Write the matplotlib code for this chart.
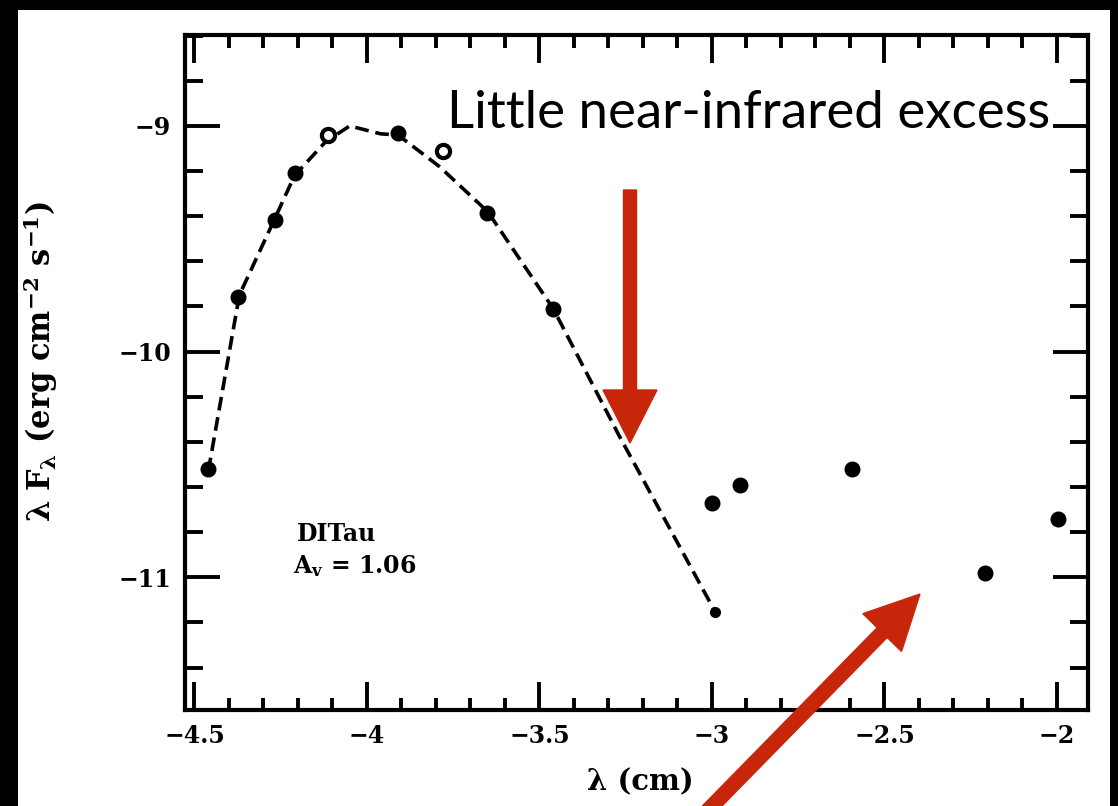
import numpy as np
import matplotlib
matplotlib.use('Agg')
import matplotlib.pyplot as plt
from matplotlib.patches import Rectangle, FancyArrow
from matplotlib.transforms import IdentityTransform
from matplotlib.ticker import MultipleLocator, FixedLocator

# model curve (dashed)
model_x = [-4.46, -4.37, -4.27, -4.21, -4.12, -4.05, -3.96, -3.91, -3.79, -3.65, -3.46, -3.27, -2.99]
model_y = [-10.53, -9.75, -9.42, -9.22, -9.07, -9.00, -9.035, -9.04, -9.18, -9.38, -9.81, -10.37, -11.155]

# observed photometry
filled_x = [-4.46, -4.374, -4.267, -4.21, -3.91, -3.652, -3.46, -3.0, -2.919, -2.594, -2.209, -1.997]
filled_y = [-10.52, -9.76, -9.416, -9.21, -9.03, -9.385, -9.81, -10.67, -10.593, -10.518, -10.982, -10.743]
open_x = [-4.113, -3.78]
open_y = [-9.04, -9.11]

xticks = [-4.5, -4, -3.5, -3, -2.5, -2]
xtick_labels = ['\u22124.5', '\u22124', '\u22123.5', '\u22123', '\u22122.5', '\u22122']
yticks = [-11, -10, -9]
ytick_labels = ['\u221211', '\u221210', '\u22129']

W, H = 1118, 806
plt.rcParams['mathtext.fontset'] = 'dejavuserif'
fig = plt.figure(figsize=(W / 100, H / 100), dpi=100, facecolor='black')

# white page on black frame
fig.patches.append(Rectangle((18 / W, 0), (1110 - 18) / W, (H - 10) / H,
                             transform=fig.transFigure, facecolor='white',
                             edgecolor='none', zorder=-1))

ax = fig.add_axes([185 / W, 1 - 710 / H, (1088 - 185) / W, (710 - 35) / H])
ax.set_facecolor('white')

ax.plot(model_x, model_y, color='black', lw=2.6, dashes=(3.8, 1.9), zorder=2)
ax.plot(model_x[-1:], model_y[-1:], 'o', color='black', ms=7, zorder=3)
ax.plot(filled_x, filled_y, 'o', color='black', ms=10.5, zorder=3)
ax.plot(open_x, open_y, 'o', mfc='white', mec='black', mew=3, ms=9.5, zorder=3)

ax.set_xlim(-4.5275, -1.91)
ax.set_ylim(-11.588, -8.597)

ax.xaxis.set_major_locator(FixedLocator(xticks))
ax.xaxis.set_minor_locator(MultipleLocator(0.1))
ax.yaxis.set_major_locator(FixedLocator(yticks))
ax.yaxis.set_minor_locator(MultipleLocator(0.2))
ax.set_xticklabels(xtick_labels, fontsize=17, fontweight='bold', family='DejaVu Serif')
ax.set_yticklabels(ytick_labels, fontsize=17, fontweight='bold', family='DejaVu Serif')

for s in ax.spines.values():
    s.set_linewidth(3)
ax.tick_params(which='both', direction='in', top=True, right=True, width=2.8, color='black')
ax.tick_params(axis='x', which='major', length=20, pad=10)
ax.tick_params(axis='x', which='minor', length=9)
ax.tick_params(axis='y', which='major', length=25, pad=10)
ax.tick_params(axis='y', which='minor', length=13)

ax.set_xlabel('\u03bb (cm)', fontsize=21, fontweight='bold', family='DejaVu Serif')
ax.xaxis.set_label_coords(0.504, -0.085)
ax.set_ylabel(r'$\mathbf{\lambda\ F_\lambda}$ (erg cm$^{\mathbf{-2}}$ s$^{\mathbf{-1}}$)',
              fontsize=22, fontweight='bold', family='DejaVu Serif')
ax.yaxis.set_label_coords(-0.138, 0.516)

ax.text(-4.203, -10.81, 'DITau', fontsize=17, fontweight='bold', family='DejaVu Serif',
        ha='left', va='center')
ax.text(-4.214, -10.95, r'A$_\mathbf{v}$ = 1.06', fontsize=17, fontweight='bold',
        family='DejaVu Serif', ha='left', va='center')

# annotation text
fig.text(447 / W, 1 - 128 / H, 'Little near-infrared excess', fontsize=38,
         family='Lato', fontweight='normal', ha='left', va='baseline', color='black')

# red arrows, in pixel coordinates
red = '#c8260a'
fig.patches.append(FancyArrow(630, H - 190, 0, -253, width=13, head_width=54,
                              head_length=53, length_includes_head=True,
                              color=red, transform=IdentityTransform(), zorder=5))
tip = np.array([920, H - 594])
u = np.array([0.700, 0.714])
start = tip - 340 * u
fig.patches.append(FancyArrow(start[0], start[1], tip[0] - start[0], tip[1] - start[1],
                              width=14, head_width=54, head_length=54,
                              length_includes_head=True, color=red,
                              transform=IdentityTransform(), zorder=5))

fig.savefig('out.png', dpi=100, facecolor='black')
